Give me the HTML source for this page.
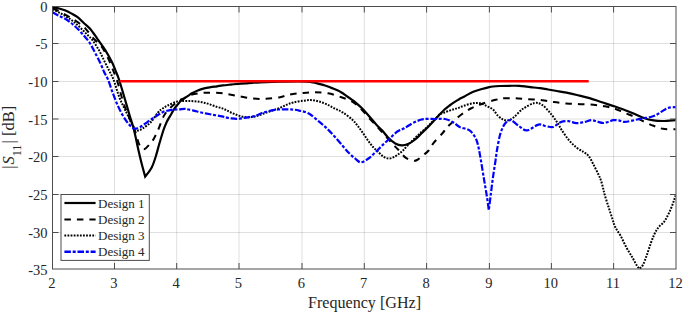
<!DOCTYPE html>
<html><head><meta charset="utf-8"><style>
html,body{margin:0;padding:0;background:#fff;overflow:hidden;width:685px;height:312px;}
svg{display:block;}
text{font-family:"Liberation Serif",serif;fill:#262626;}
</style></head><body>
<svg width="685" height="312" viewBox="0 0 685 312">
<defs><clipPath id="c"><rect x="52.5" y="5.5" width="623.5" height="264.0"/></clipPath></defs>
<rect width="685" height="312" fill="#fff"/>
<line x1="114.50" y1="6.5" x2="114.50" y2="269.0" stroke="#262626" stroke-opacity="0.15" stroke-width="1"/>
<line x1="176.70" y1="6.5" x2="176.70" y2="269.0" stroke="#262626" stroke-opacity="0.15" stroke-width="1"/>
<line x1="239.00" y1="6.5" x2="239.00" y2="269.0" stroke="#262626" stroke-opacity="0.15" stroke-width="1"/>
<line x1="302.00" y1="6.5" x2="302.00" y2="269.0" stroke="#262626" stroke-opacity="0.15" stroke-width="1"/>
<line x1="364.30" y1="6.5" x2="364.30" y2="269.0" stroke="#262626" stroke-opacity="0.15" stroke-width="1"/>
<line x1="426.60" y1="6.5" x2="426.60" y2="269.0" stroke="#262626" stroke-opacity="0.15" stroke-width="1"/>
<line x1="489.40" y1="6.5" x2="489.40" y2="269.0" stroke="#262626" stroke-opacity="0.15" stroke-width="1"/>
<line x1="551.40" y1="6.5" x2="551.40" y2="269.0" stroke="#262626" stroke-opacity="0.15" stroke-width="1"/>
<line x1="613.60" y1="6.5" x2="613.60" y2="269.0" stroke="#262626" stroke-opacity="0.15" stroke-width="1"/>
<line x1="52.5" y1="43.50" x2="676.0" y2="43.50" stroke="#262626" stroke-opacity="0.15" stroke-width="1"/>
<line x1="52.5" y1="81.50" x2="676.0" y2="81.50" stroke="#262626" stroke-opacity="0.15" stroke-width="1"/>
<line x1="52.5" y1="119.00" x2="676.0" y2="119.00" stroke="#262626" stroke-opacity="0.15" stroke-width="1"/>
<line x1="52.5" y1="156.50" x2="676.0" y2="156.50" stroke="#262626" stroke-opacity="0.15" stroke-width="1"/>
<line x1="52.5" y1="194.50" x2="676.0" y2="194.50" stroke="#262626" stroke-opacity="0.15" stroke-width="1"/>
<line x1="52.5" y1="232.50" x2="676.0" y2="232.50" stroke="#262626" stroke-opacity="0.15" stroke-width="1"/>
<g clip-path="url(#c)" fill="none">
<path d="M52.60,7.30 C53.57,7.45 56.37,7.70 58.40,8.20 C60.43,8.70 62.67,9.43 64.80,10.30 C66.93,11.17 69.07,12.25 71.20,13.40 C73.33,14.55 75.47,15.57 77.60,17.20 C79.73,18.83 81.85,21.20 84.00,23.20 C86.15,25.20 88.22,26.52 90.50,29.20 C92.78,31.88 95.22,35.78 97.70,39.30 C100.18,42.82 103.05,46.55 105.40,50.30 C107.75,54.05 110.10,58.38 111.80,61.80 C113.50,65.22 114.40,67.85 115.60,70.80 C116.80,73.75 117.57,75.18 119.00,79.50 C120.43,83.82 122.45,90.78 124.20,96.70 C125.95,102.62 127.87,109.45 129.50,115.00 C131.13,120.55 132.52,124.17 134.00,130.00 C135.48,135.83 137.15,144.50 138.40,150.00 C139.65,155.50 140.37,158.57 141.50,163.00 C142.63,167.43 145.20,176.60 145.20,176.60 C145.20,176.60 149.97,170.77 151.70,167.50 C153.43,164.23 154.32,161.00 155.60,157.00 C156.88,153.00 158.08,148.00 159.40,143.50 C160.72,139.00 162.32,133.50 163.50,130.00 C164.68,126.50 165.75,124.23 166.50,122.50 C167.25,120.77 167.22,120.98 168.00,119.60 C168.78,118.22 170.13,116.03 171.20,114.20 C172.27,112.37 173.33,110.20 174.40,108.60 C175.47,107.00 176.53,105.87 177.60,104.60 C178.67,103.33 179.73,102.00 180.80,101.00 C181.87,100.00 182.72,99.50 184.00,98.60 C185.28,97.70 187.27,96.45 188.50,95.60 C189.73,94.75 189.85,94.37 191.40,93.50 C192.95,92.63 195.67,91.25 197.80,90.40 C199.93,89.55 202.07,88.93 204.20,88.40 C206.33,87.87 208.47,87.55 210.60,87.20 C212.73,86.85 214.98,86.60 217.00,86.30 C219.02,86.00 220.47,85.68 222.70,85.40 C224.93,85.12 227.85,84.85 230.40,84.60 C232.95,84.35 235.43,84.12 238.00,83.90 C240.57,83.68 243.47,83.48 245.80,83.30 C248.13,83.12 249.63,82.97 252.00,82.80 C254.37,82.63 255.33,82.48 260.00,82.30 C264.67,82.12 273.47,81.85 280.00,81.70 C286.53,81.55 293.75,81.30 299.20,81.40 C304.65,81.50 308.53,81.67 312.70,82.30 C316.87,82.93 321.08,84.27 324.20,85.20 C327.32,86.13 329.10,87.02 331.40,87.90 C333.70,88.78 336.23,89.68 338.00,90.50 C339.77,91.32 340.67,91.95 342.00,92.80 C343.33,93.65 344.67,94.67 346.00,95.60 C347.33,96.53 348.67,97.47 350.00,98.40 C351.33,99.33 352.67,100.17 354.00,101.20 C355.33,102.23 356.67,103.42 358.00,104.60 C359.33,105.78 360.73,107.03 362.00,108.30 C363.27,109.57 363.27,109.55 365.60,112.20 C367.93,114.85 373.27,121.18 376.00,124.20 C378.73,127.22 379.92,128.00 382.00,130.30 C384.08,132.60 386.28,135.80 388.50,138.00 C390.72,140.20 393.10,142.27 395.30,143.50 C397.50,144.73 399.58,145.30 401.70,145.40 C403.82,145.50 405.87,145.00 408.00,144.10 C410.13,143.20 412.35,141.68 414.50,140.00 C416.65,138.32 418.77,136.03 420.90,134.00 C423.03,131.97 425.10,130.05 427.30,127.80 C429.50,125.55 431.98,122.78 434.10,120.50 C436.22,118.22 438.22,115.97 440.00,114.10 C441.78,112.23 443.20,110.73 444.80,109.30 C446.40,107.87 448.00,106.70 449.60,105.50 C451.20,104.30 452.80,103.15 454.40,102.10 C456.00,101.05 457.60,100.08 459.20,99.20 C460.80,98.32 462.10,97.85 464.00,96.80 C465.90,95.75 468.57,93.92 470.60,92.90 C472.63,91.88 474.33,91.35 476.20,90.70 C478.07,90.05 479.93,89.52 481.80,89.00 C483.67,88.48 485.53,88.02 487.40,87.60 C489.27,87.18 490.90,86.77 493.00,86.50 C495.10,86.23 497.23,86.12 500.00,86.00 C502.77,85.88 506.40,85.83 509.60,85.80 C512.80,85.77 516.32,85.67 519.20,85.80 C522.08,85.93 524.48,86.32 526.90,86.60 C529.32,86.88 531.52,87.25 533.70,87.50 C535.88,87.75 537.62,87.77 540.00,88.10 C542.38,88.43 545.17,89.02 548.00,89.50 C550.83,89.98 553.92,90.47 557.00,91.00 C560.08,91.53 563.00,92.00 566.50,92.70 C570.00,93.40 574.15,94.30 578.00,95.20 C581.85,96.10 585.77,96.97 589.60,98.10 C593.43,99.23 596.77,100.60 601.00,102.00 C605.23,103.40 611.07,105.17 615.00,106.50 C618.93,107.83 621.40,108.78 624.60,110.00 C627.80,111.22 631.00,112.47 634.20,113.80 C637.40,115.13 640.58,116.90 643.80,118.00 C647.02,119.10 650.30,119.90 653.50,120.40 C656.70,120.90 659.33,121.05 663.00,121.00 C666.67,120.95 673.42,120.25 675.50,120.10" stroke="#000" stroke-width="2.2"/>
<path d="M52.60,8.50 C53.78,9.00 57.23,10.27 59.70,11.50 C62.17,12.73 65.05,14.55 67.40,15.90 C69.75,17.25 71.77,18.33 73.80,19.60 C75.83,20.87 77.90,22.27 79.60,23.50 C81.30,24.73 82.62,25.67 84.00,27.00 C85.38,28.33 86.15,29.42 87.90,31.50 C89.65,33.58 92.23,37.02 94.50,39.50 C96.77,41.98 99.25,43.32 101.50,46.40 C103.75,49.48 106.08,54.07 108.00,58.00 C109.92,61.93 111.42,66.00 113.00,70.00 C114.58,74.00 116.05,77.50 117.50,82.00 C118.95,86.50 120.28,92.33 121.70,97.00 C123.12,101.67 124.53,106.08 126.00,110.00 C127.47,113.92 128.93,116.83 130.50,120.50 C132.07,124.17 133.95,128.02 135.40,132.00 C136.85,135.98 137.77,141.53 139.20,144.40 C140.63,147.27 142.03,149.50 144.00,149.20 C145.97,148.90 149.25,144.55 151.00,142.60 C152.75,140.65 153.25,139.77 154.50,137.50 C155.75,135.23 157.18,132.08 158.50,129.00 C159.82,125.92 161.35,121.47 162.40,119.00 C163.45,116.53 163.78,115.73 164.80,114.20 C165.82,112.67 167.30,111.13 168.50,109.80 C169.70,108.47 170.75,107.33 172.00,106.20 C173.25,105.07 174.53,104.10 176.00,103.00 C177.47,101.90 179.47,100.38 180.80,99.60 C182.13,98.82 182.33,99.10 184.00,98.30 C185.67,97.50 187.43,95.72 190.80,94.80 C194.17,93.88 199.33,93.10 204.20,92.80 C209.07,92.50 216.08,92.77 220.00,93.00 C223.92,93.23 224.50,93.67 227.70,94.20 C230.90,94.73 235.03,95.48 239.20,96.20 C243.37,96.92 248.23,98.07 252.70,98.50 C257.17,98.93 261.45,99.02 266.00,98.80 C270.55,98.58 276.07,97.90 280.00,97.20 C283.93,96.50 285.77,95.32 289.60,94.60 C293.43,93.88 298.83,93.28 303.00,92.90 C307.17,92.52 310.43,92.23 314.60,92.30 C318.77,92.37 323.52,92.47 328.00,93.30 C332.48,94.13 337.33,95.83 341.50,97.30 C345.67,98.77 349.78,100.18 353.00,102.10 C356.22,104.02 357.97,105.98 360.80,108.80 C363.63,111.62 367.13,115.88 370.00,119.00 C372.87,122.12 375.50,124.75 378.00,127.50 C380.50,130.25 383.00,133.25 385.00,135.50 C387.00,137.75 388.50,139.35 390.00,141.00 C391.50,142.65 392.70,144.03 394.00,145.40 C395.30,146.77 395.88,147.17 397.80,149.20 C399.72,151.23 402.97,155.72 405.50,157.60 C408.03,159.48 411.08,160.10 413.00,160.50 C414.92,160.90 415.25,160.92 417.00,160.00 C418.75,159.08 421.57,156.58 423.50,155.00 C425.43,153.42 426.90,152.53 428.60,150.50 C430.30,148.47 431.35,145.72 433.70,142.80 C436.05,139.88 440.37,135.68 442.70,133.00 C445.03,130.32 444.95,129.50 447.70,126.70 C450.45,123.90 455.35,119.23 459.20,116.20 C463.05,113.17 466.95,110.58 470.80,108.50 C474.65,106.42 478.13,105.15 482.30,103.70 C486.47,102.25 492.22,100.70 495.80,99.80 C499.38,98.90 500.53,98.55 503.80,98.30 C507.07,98.05 511.23,98.15 515.40,98.30 C519.57,98.45 524.32,98.88 528.80,99.20 C533.28,99.52 538.13,99.72 542.30,100.20 C546.47,100.68 549.77,101.55 553.80,102.10 C557.83,102.65 562.13,103.15 566.50,103.50 C570.87,103.85 575.50,103.98 580.00,104.20 C584.50,104.42 589.33,104.45 593.50,104.80 C597.67,105.15 601.42,105.65 605.00,106.30 C608.58,106.95 611.73,107.60 615.00,108.70 C618.27,109.80 621.40,111.57 624.60,112.90 C627.80,114.23 631.00,115.27 634.20,116.70 C637.40,118.13 640.58,119.98 643.80,121.50 C647.02,123.02 650.30,124.58 653.50,125.80 C656.70,127.02 659.33,128.23 663.00,128.80 C666.67,129.37 673.42,129.13 675.50,129.20" stroke="#000" stroke-width="2" stroke-dasharray="6.5,6"/>
<path d="M52.60,9.40 C53.78,9.97 57.23,11.48 59.70,12.80 C62.17,14.12 65.05,15.80 67.40,17.30 C69.75,18.80 71.67,20.08 73.80,21.80 C75.93,23.52 78.07,25.57 80.20,27.60 C82.33,29.63 84.55,31.90 86.60,34.00 C88.65,36.10 90.43,37.48 92.50,40.20 C94.57,42.92 97.07,46.92 99.00,50.30 C100.93,53.68 102.40,57.08 104.10,60.50 C105.80,63.92 107.63,67.63 109.20,70.80 C110.77,73.97 111.85,75.18 113.50,79.50 C115.15,83.82 117.35,92.02 119.10,96.70 C120.85,101.38 122.55,104.50 124.00,107.60 C125.45,110.70 126.52,112.65 127.80,115.30 C129.08,117.95 130.42,121.22 131.70,123.50 C132.98,125.78 134.37,127.85 135.50,129.00 C136.63,130.15 137.22,130.55 138.50,130.40 C139.78,130.25 141.13,129.50 143.20,128.10 C145.27,126.70 148.43,124.60 150.90,122.00 C153.37,119.40 156.15,114.67 158.00,112.50 C159.85,110.33 160.38,110.17 162.00,109.00 C163.62,107.83 165.15,106.75 167.70,105.50 C170.25,104.25 174.42,102.27 177.30,101.50 C180.18,100.73 182.65,100.97 185.00,100.90 C187.35,100.83 189.27,100.98 191.40,101.10 C193.53,101.22 195.67,101.33 197.80,101.60 C199.93,101.87 202.07,102.20 204.20,102.70 C206.33,103.20 208.47,103.90 210.60,104.60 C212.73,105.30 215.02,106.27 217.00,106.90 C218.98,107.53 220.83,107.80 222.50,108.40 C224.17,109.00 225.48,109.77 227.00,110.50 C228.52,111.23 230.03,112.08 231.60,112.80 C233.17,113.52 234.80,114.20 236.40,114.80 C238.00,115.40 239.60,116.02 241.20,116.40 C242.80,116.78 244.40,116.98 246.00,117.10 C247.60,117.22 249.20,117.23 250.80,117.10 C252.40,116.97 253.57,116.85 255.60,116.30 C257.63,115.75 260.43,114.68 263.00,113.80 C265.57,112.92 268.33,111.93 271.00,111.00 C273.67,110.07 276.33,109.27 279.00,108.20 C281.67,107.13 284.58,105.57 287.00,104.60 C289.42,103.63 290.83,103.03 293.50,102.40 C296.17,101.77 300.08,101.18 303.00,100.80 C305.92,100.42 308.33,99.98 311.00,100.10 C313.67,100.22 316.33,100.77 319.00,101.50 C321.67,102.23 324.33,103.32 327.00,104.50 C329.67,105.68 332.33,107.25 335.00,108.60 C337.67,109.95 340.07,110.70 343.00,112.60 C345.93,114.50 350.15,117.80 352.60,120.00 C355.05,122.20 356.00,123.67 357.70,125.80 C359.40,127.93 361.08,130.35 362.80,132.80 C364.52,135.25 366.30,138.13 368.00,140.50 C369.70,142.87 371.30,145.08 373.00,147.00 C374.70,148.92 376.48,150.42 378.20,152.00 C379.92,153.58 381.58,155.42 383.30,156.50 C385.02,157.58 386.78,158.38 388.50,158.50 C390.22,158.62 391.90,157.95 393.60,157.20 C395.30,156.45 397.13,155.12 398.70,154.00 C400.27,152.88 401.45,152.00 403.00,150.50 C404.55,149.00 406.08,147.00 408.00,145.00 C409.92,143.00 412.35,140.58 414.50,138.50 C416.65,136.42 418.77,134.42 420.90,132.50 C423.03,130.58 425.28,128.92 427.30,127.00 C429.32,125.08 430.88,123.12 433.00,121.00 C435.12,118.88 438.20,115.68 440.00,114.30 C441.80,112.92 442.20,113.32 443.80,112.70 C445.40,112.08 447.83,111.20 449.60,110.60 C451.37,110.00 452.80,109.60 454.40,109.10 C456.00,108.60 457.60,108.17 459.20,107.60 C460.80,107.03 462.10,106.33 464.00,105.70 C465.90,105.07 468.57,104.25 470.60,103.80 C472.63,103.35 474.33,103.03 476.20,103.00 C478.07,102.97 479.93,103.03 481.80,103.60 C483.67,104.17 485.53,105.42 487.40,106.40 C489.27,107.38 491.23,107.93 493.00,109.50 C494.77,111.07 496.33,114.13 498.00,115.80 C499.67,117.47 501.38,118.73 503.00,119.50 C504.62,120.27 505.95,120.73 507.70,120.40 C509.45,120.07 510.95,119.43 513.50,117.50 C516.05,115.57 519.48,111.22 523.00,108.80 C526.52,106.38 531.38,103.63 534.60,103.00 C537.82,102.37 539.73,103.38 542.30,105.00 C544.87,106.62 547.75,110.13 550.00,112.70 C552.25,115.27 554.33,118.35 555.80,120.40 C557.27,122.45 557.82,123.40 558.80,125.00 C559.78,126.60 560.08,127.57 561.70,130.00 C563.32,132.43 566.08,136.72 568.50,139.60 C570.92,142.48 573.65,145.22 576.20,147.30 C578.75,149.38 581.72,150.65 583.80,152.10 C585.88,153.55 587.08,153.92 588.70,156.00 C590.32,158.08 591.90,161.57 593.50,164.60 C595.10,167.63 597.08,171.63 598.30,174.20 C599.52,176.77 600.02,177.75 600.80,180.00 C601.58,182.25 602.37,185.30 603.00,187.70 C603.63,190.10 603.68,191.20 604.60,194.40 C605.52,197.60 607.22,202.88 608.50,206.90 C609.78,210.92 611.18,215.15 612.30,218.50 C613.42,221.85 613.78,224.05 615.20,227.00 C616.62,229.95 618.92,232.75 620.80,236.20 C622.68,239.65 624.58,244.18 626.50,247.70 C628.42,251.22 630.53,254.25 632.30,257.30 C634.07,260.35 635.88,264.12 637.10,266.00 C638.32,267.88 639.60,268.60 639.60,268.60 C639.60,268.60 641.72,267.20 642.90,265.00 C644.08,262.80 645.42,258.93 646.70,255.40 C647.98,251.87 649.32,247.33 650.60,243.80 C651.88,240.27 653.12,236.92 654.40,234.20 C655.68,231.48 656.70,229.53 658.30,227.50 C659.90,225.47 662.38,224.08 664.00,222.00 C665.62,219.92 666.80,217.33 668.00,215.00 C669.20,212.67 670.20,210.43 671.20,208.00 C672.20,205.57 673.28,202.47 674.00,200.40 C674.72,198.33 675.25,196.40 675.50,195.60" stroke="#000" stroke-width="2" stroke-dasharray="1.8,1.3"/>
<path d="M52.60,12.30 C53.57,12.83 56.37,14.47 58.40,15.50 C60.43,16.53 62.67,17.25 64.80,18.50 C66.93,19.75 69.07,21.28 71.20,23.00 C73.33,24.72 75.47,26.67 77.60,28.80 C79.73,30.93 81.97,33.43 84.00,35.80 C86.03,38.17 87.95,40.17 89.80,43.00 C91.65,45.83 93.35,49.47 95.10,52.80 C96.85,56.13 98.80,59.80 100.30,63.00 C101.80,66.20 102.82,69.25 104.10,72.00 C105.38,74.75 106.57,76.03 108.00,79.50 C109.43,82.97 111.07,88.45 112.70,92.80 C114.33,97.15 116.13,101.85 117.80,105.60 C119.47,109.35 121.03,112.40 122.70,115.30 C124.37,118.20 126.08,120.87 127.80,123.00 C129.52,125.13 131.72,127.15 133.00,128.10 C134.28,129.05 134.23,128.92 135.50,128.70 C136.77,128.48 138.68,127.87 140.60,126.80 C142.52,125.73 144.85,123.80 147.00,122.30 C149.15,120.80 151.67,119.02 153.50,117.80 C155.33,116.58 156.92,115.68 158.00,115.00 C159.08,114.32 159.00,114.27 160.00,113.70 C161.00,113.13 162.67,112.12 164.00,111.60 C165.33,111.08 166.67,110.88 168.00,110.60 C169.33,110.32 170.67,110.08 172.00,109.90 C173.33,109.72 174.67,109.60 176.00,109.50 C177.33,109.40 178.50,109.40 180.00,109.30 C181.50,109.20 182.88,108.72 185.00,108.90 C187.12,109.08 189.82,109.77 192.70,110.40 C195.58,111.03 199.08,112.00 202.30,112.70 C205.52,113.40 208.72,113.98 212.00,114.60 C215.28,115.22 219.53,115.90 222.00,116.40 C224.47,116.90 225.20,117.27 226.80,117.60 C228.40,117.93 230.00,118.20 231.60,118.40 C233.20,118.60 234.80,118.80 236.40,118.80 C238.00,118.80 239.60,118.60 241.20,118.40 C242.80,118.20 244.40,117.87 246.00,117.60 C247.60,117.33 249.20,117.10 250.80,116.80 C252.40,116.50 253.57,116.50 255.60,115.80 C257.63,115.10 260.43,113.47 263.00,112.60 C265.57,111.73 268.33,111.12 271.00,110.60 C273.67,110.08 276.33,109.70 279.00,109.50 C281.67,109.30 284.58,109.38 287.00,109.40 C289.42,109.42 291.47,109.40 293.50,109.60 C295.53,109.80 296.65,109.95 299.20,110.60 C301.75,111.25 305.58,111.73 308.80,113.50 C312.02,115.27 315.47,118.68 318.50,121.20 C321.53,123.72 324.25,125.97 327.00,128.60 C329.75,131.23 332.33,134.05 335.00,137.00 C337.67,139.95 340.63,143.58 343.00,146.30 C345.37,149.02 347.18,151.27 349.20,153.30 C351.22,155.33 353.17,157.00 355.10,158.50 C357.03,160.00 358.57,162.30 360.80,162.30 C363.03,162.30 366.03,160.22 368.50,158.50 C370.97,156.78 373.13,154.35 375.60,152.00 C378.07,149.65 380.90,146.68 383.30,144.40 C385.70,142.12 387.65,140.45 390.00,138.30 C392.35,136.15 395.03,133.17 397.40,131.50 C399.77,129.83 401.47,129.80 404.20,128.30 C406.93,126.80 410.58,124.02 413.80,122.50 C417.02,120.98 419.97,119.78 423.50,119.20 C427.03,118.62 431.42,119.03 435.00,119.00 C438.58,118.97 441.92,118.42 445.00,119.00 C448.08,119.58 451.07,121.17 453.50,122.50 C455.93,123.83 456.98,125.72 459.60,127.00 C462.22,128.28 466.63,128.53 469.20,130.20 C471.77,131.87 473.55,134.60 475.00,137.00 C476.45,139.40 476.98,141.10 477.90,144.60 C478.82,148.10 479.48,152.23 480.50,158.00 C481.52,163.77 482.93,172.78 484.00,179.20 C485.07,185.62 486.10,191.37 486.90,196.50 C487.70,201.63 488.80,210.00 488.80,210.00 C488.80,210.00 490.15,199.73 490.80,194.60 C491.45,189.47 491.90,184.97 492.70,179.20 C493.50,173.43 494.88,164.87 495.60,160.00 C496.32,155.13 496.27,154.17 497.00,150.00 C497.73,145.83 498.87,139.10 500.00,135.00 C501.13,130.90 502.52,127.73 503.80,125.40 C505.08,123.07 506.42,121.83 507.70,121.00 C508.98,120.17 509.58,119.53 511.50,120.40 C513.42,121.27 516.62,124.53 519.20,126.20 C521.78,127.87 523.78,130.67 527.00,130.40 C530.22,130.13 535.33,125.30 538.50,124.60 C541.67,123.90 543.75,125.78 546.00,126.20 C548.25,126.62 550.50,127.13 552.00,127.10 C553.50,127.07 553.53,126.83 555.00,126.00 C556.47,125.17 558.55,122.90 560.80,122.10 C563.05,121.30 565.93,121.03 568.50,121.20 C571.07,121.37 573.65,122.95 576.20,123.10 C578.75,123.25 581.25,122.58 583.80,122.10 C586.35,121.62 589.30,120.30 591.50,120.20 C593.70,120.10 595.08,121.03 597.00,121.50 C598.92,121.97 601.17,122.92 603.00,123.00 C604.83,123.08 606.28,122.47 608.00,122.00 C609.72,121.53 611.55,120.47 613.30,120.20 C615.05,119.93 616.62,120.12 618.50,120.40 C620.38,120.68 622.30,121.87 624.60,121.90 C626.90,121.93 629.33,121.20 632.30,120.60 C635.27,120.00 639.65,118.82 642.40,118.30 C645.15,117.78 646.67,117.97 648.80,117.50 C650.93,117.03 653.07,116.48 655.20,115.50 C657.33,114.52 659.47,112.85 661.60,111.60 C663.73,110.35 665.68,108.75 668.00,108.00 C670.32,107.25 674.25,107.25 675.50,107.10" stroke="#0000ff" stroke-width="2.2" stroke-dasharray="6.5,1.8,3,1.8"/>
<line x1="119.5" y1="81.3" x2="588.7" y2="81.3" stroke="#ff0000" stroke-width="2.4"/>
</g>
<rect x="52.5" y="6.5" width="623.5" height="262.5" fill="none" stroke="#4d4d4d" stroke-width="1"/>
<line x1="114.50" y1="269.0" x2="114.50" y2="263.0" stroke="#4d4d4d"/>
<line x1="114.50" y1="6.5" x2="114.50" y2="12.5" stroke="#4d4d4d"/>
<line x1="176.70" y1="269.0" x2="176.70" y2="263.0" stroke="#4d4d4d"/>
<line x1="176.70" y1="6.5" x2="176.70" y2="12.5" stroke="#4d4d4d"/>
<line x1="239.00" y1="269.0" x2="239.00" y2="263.0" stroke="#4d4d4d"/>
<line x1="239.00" y1="6.5" x2="239.00" y2="12.5" stroke="#4d4d4d"/>
<line x1="302.00" y1="269.0" x2="302.00" y2="263.0" stroke="#4d4d4d"/>
<line x1="302.00" y1="6.5" x2="302.00" y2="12.5" stroke="#4d4d4d"/>
<line x1="364.30" y1="269.0" x2="364.30" y2="263.0" stroke="#4d4d4d"/>
<line x1="364.30" y1="6.5" x2="364.30" y2="12.5" stroke="#4d4d4d"/>
<line x1="426.60" y1="269.0" x2="426.60" y2="263.0" stroke="#4d4d4d"/>
<line x1="426.60" y1="6.5" x2="426.60" y2="12.5" stroke="#4d4d4d"/>
<line x1="489.40" y1="269.0" x2="489.40" y2="263.0" stroke="#4d4d4d"/>
<line x1="489.40" y1="6.5" x2="489.40" y2="12.5" stroke="#4d4d4d"/>
<line x1="551.40" y1="269.0" x2="551.40" y2="263.0" stroke="#4d4d4d"/>
<line x1="551.40" y1="6.5" x2="551.40" y2="12.5" stroke="#4d4d4d"/>
<line x1="613.60" y1="269.0" x2="613.60" y2="263.0" stroke="#4d4d4d"/>
<line x1="613.60" y1="6.5" x2="613.60" y2="12.5" stroke="#4d4d4d"/>
<line x1="52.5" y1="43.50" x2="58.5" y2="43.50" stroke="#4d4d4d"/>
<line x1="676.0" y1="43.50" x2="670.0" y2="43.50" stroke="#4d4d4d"/>
<line x1="52.5" y1="81.50" x2="58.5" y2="81.50" stroke="#4d4d4d"/>
<line x1="676.0" y1="81.50" x2="670.0" y2="81.50" stroke="#4d4d4d"/>
<line x1="52.5" y1="119.00" x2="58.5" y2="119.00" stroke="#4d4d4d"/>
<line x1="676.0" y1="119.00" x2="670.0" y2="119.00" stroke="#4d4d4d"/>
<line x1="52.5" y1="156.50" x2="58.5" y2="156.50" stroke="#4d4d4d"/>
<line x1="676.0" y1="156.50" x2="670.0" y2="156.50" stroke="#4d4d4d"/>
<line x1="52.5" y1="194.50" x2="58.5" y2="194.50" stroke="#4d4d4d"/>
<line x1="676.0" y1="194.50" x2="670.0" y2="194.50" stroke="#4d4d4d"/>
<line x1="52.5" y1="232.50" x2="58.5" y2="232.50" stroke="#4d4d4d"/>
<line x1="676.0" y1="232.50" x2="670.0" y2="232.50" stroke="#4d4d4d"/>
<text x="51.90" y="288.4" text-anchor="middle" font-size="14.5">2</text>
<text x="113.90" y="288.4" text-anchor="middle" font-size="14.5">3</text>
<text x="176.10" y="288.4" text-anchor="middle" font-size="14.5">4</text>
<text x="238.40" y="288.4" text-anchor="middle" font-size="14.5">5</text>
<text x="301.40" y="288.4" text-anchor="middle" font-size="14.5">6</text>
<text x="363.70" y="288.4" text-anchor="middle" font-size="14.5">7</text>
<text x="426.00" y="288.4" text-anchor="middle" font-size="14.5">8</text>
<text x="488.80" y="288.4" text-anchor="middle" font-size="14.5">9</text>
<text x="550.80" y="288.4" text-anchor="middle" font-size="14.5">10</text>
<text x="613.00" y="288.4" text-anchor="middle" font-size="14.5">11</text>
<text x="675.40" y="288.4" text-anchor="middle" font-size="14.5">12</text>
<text x="47.6" y="12.10" text-anchor="end" font-size="14.5">0</text>
<text x="47.6" y="49.10" text-anchor="end" font-size="14.5">-5</text>
<text x="47.6" y="87.10" text-anchor="end" font-size="14.5">-10</text>
<text x="47.6" y="124.60" text-anchor="end" font-size="14.5">-15</text>
<text x="47.6" y="162.10" text-anchor="end" font-size="14.5">-20</text>
<text x="47.6" y="200.10" text-anchor="end" font-size="14.5">-25</text>
<text x="47.6" y="238.10" text-anchor="end" font-size="14.5">-30</text>
<text x="47.6" y="274.60" text-anchor="end" font-size="14.5">-35</text>
<text x="364.5" y="308" text-anchor="middle" font-size="16.1">Frequency [GHz]</text>
<text transform="translate(13.8,168.7) rotate(-90)" font-size="16.5">|<tspan font-style="italic" dx="0.9">S</tspan><tspan font-size="12" dy="7.3">11</tspan><tspan dy="-7.3" dx="1.2">| [dB]</tspan></text>
<rect x="61" y="194.5" width="88.30000000000001" height="65.89999999999998" fill="#fff" stroke="#4d4d4d" stroke-width="1"/>
<line x1="64.4" y1="203" x2="95.6" y2="203" stroke="#000" stroke-width="2.2"/>
<text x="98" y="207.60" font-size="13">Design 1</text>
<line x1="64.4" y1="219.6" x2="95.6" y2="219.6" stroke="#000" stroke-width="2" stroke-dasharray="6.5,6"/>
<text x="98" y="224.20" font-size="13">Design 2</text>
<line x1="64.4" y1="235.5" x2="95.6" y2="235.5" stroke="#000" stroke-width="2" stroke-dasharray="1.8,1.3"/>
<text x="98" y="240.10" font-size="13">Design 3</text>
<line x1="64.4" y1="251.8" x2="95.6" y2="251.8" stroke="#0000ff" stroke-width="2.4" stroke-dasharray="6.5,1.8,3,1.8"/>
<text x="98" y="256.40" font-size="13">Design 4</text>
</svg>
</body></html>
